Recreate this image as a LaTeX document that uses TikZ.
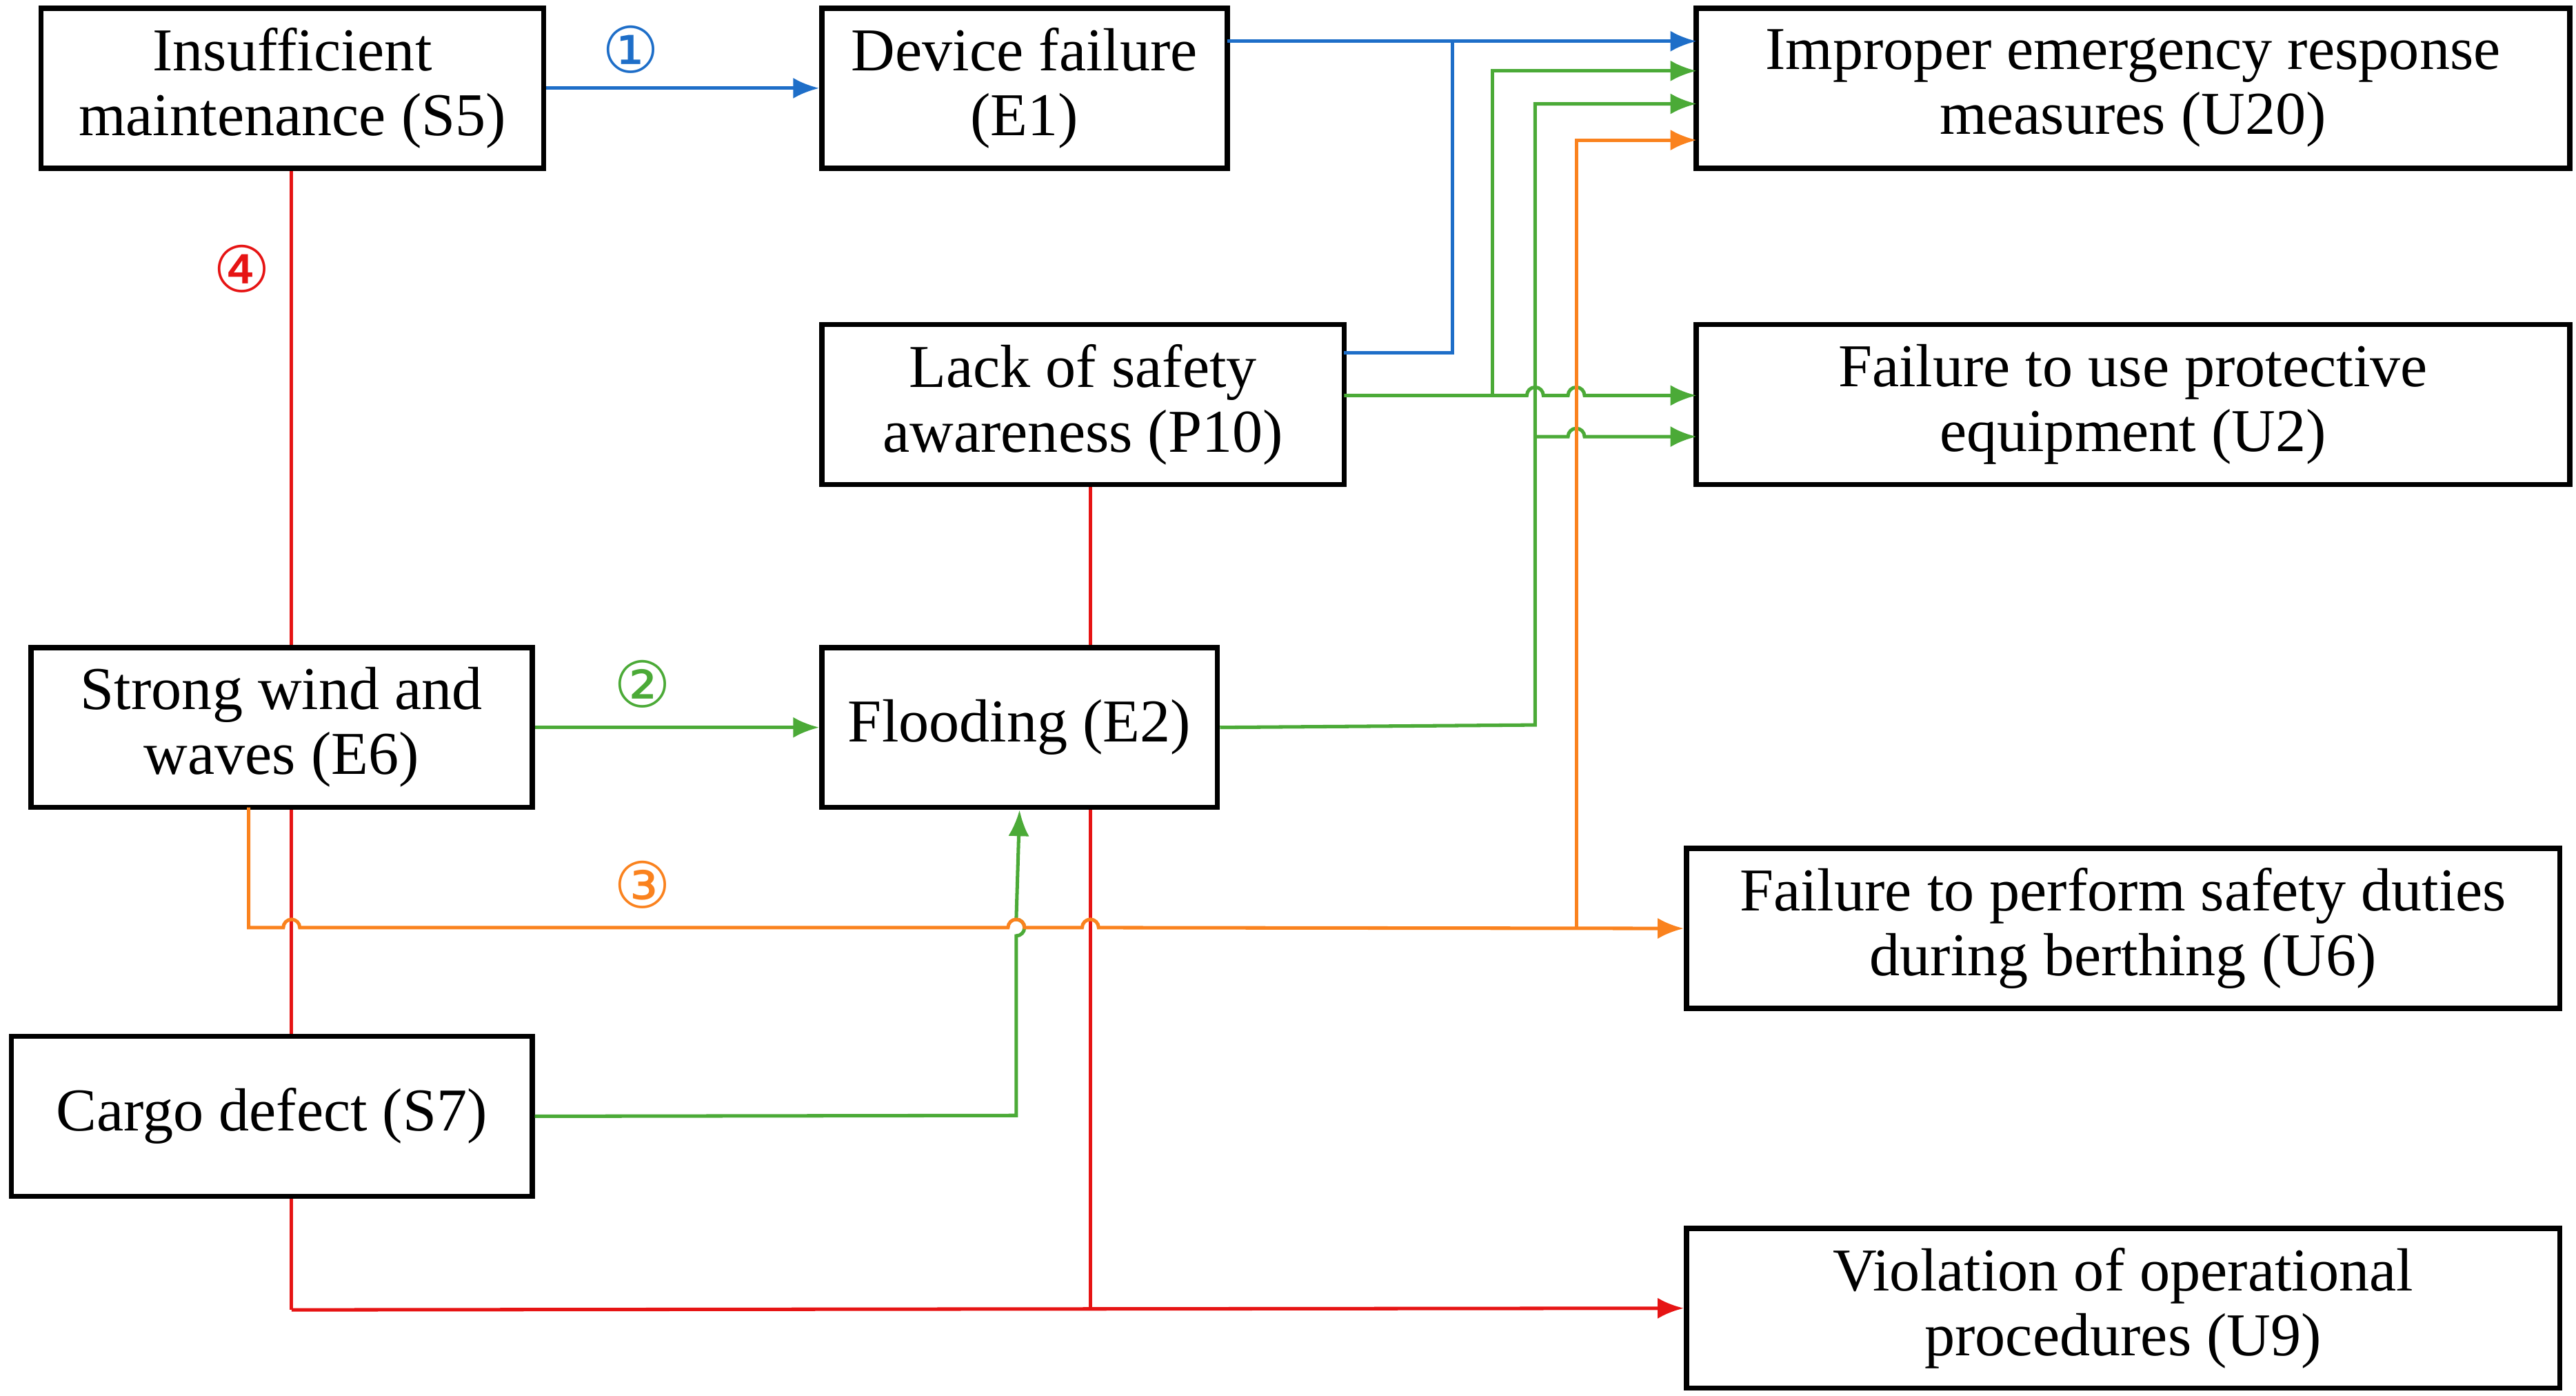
\documentclass[tikz,border=0pt]{standalone}
\usepackage{fontspec}
\setmainfont{Liberation Serif}
\newfontfamily\symf{DejaVu Sans}
\usetikzlibrary{arrows.meta}
\definecolor{cb}{RGB}{30,110,200}
\definecolor{cg}{RGB}{75,170,55}
\definecolor{co}{RGB}{250,130,30}
\definecolor{cr}{RGB}{230,20,20}
\begin{document}
\begin{tikzpicture}[x=0.01cm,y=-0.01cm,
 box/.style={draw,line width=0.9pt,fill=white,align=center,inner sep=0pt,font=\fontsize{10.5}{11.2}\selectfont},
 ln/.style={line width=0.6pt},
 ar/.style={ln,-{Latex[length=4.5pt,width=3.6pt]}},
 lab/.style={font=\symf\fontsize{11}{11}\selectfont}]
\useasboundingbox (0,0) rectangle (1564,847);
% red lines (behind boxes)
\draw[ln,cr] (177,102) -- (177,795);
\draw[ln,cr] (662,294) -- (662,795);
\node[lab,text=cr] (n4) at (147,163) {④};
% boxes
\node[box,minimum width=3.05cm,minimum height=0.97cm] (S5) at (177.5,53.5) {Insufficient\\maintenance (S5)};
\node[box,minimum width=2.46cm,minimum height=0.97cm] (E1) at (622,53.5) {Device failure\\(E1)};
\node[box,minimum width=5.30cm,minimum height=0.97cm] (U20) at (1295,53.5) {Improper emergency response\\measures (U20)};
\node[box,minimum width=3.17cm,minimum height=0.97cm] (P10) at (657.5,245.5) {Lack of safety\\awareness (P10)};
\node[box,minimum width=5.30cm,minimum height=0.97cm] (U2) at (1295,245.5) {Failure to use protective\\equipment (U2)};
\node[box,minimum width=3.04cm,minimum height=0.97cm] (E6) at (171,441.5) {Strong wind and\\waves (E6)};
\node[box,minimum width=2.40cm,minimum height=0.97cm] (E2) at (619,441.5) {Flooding (E2)};
\node[box,minimum width=5.30cm,minimum height=0.97cm] (U6) at (1289,563.5) {Failure to perform safety duties\\during berthing (U6)};
\node[box,minimum width=3.16cm,minimum height=0.97cm] (S7) at (165,677.5) {Cargo defect (S7)};
\node[box,minimum width=5.30cm,minimum height=0.97cm] (U9) at (1289,794) {Violation of operational\\procedures (U9)};
\draw[ar,cr] (177,795) -- (U9.west);
% blue
\draw[ar,cb] (S5.east) -- (E1.west);
\node[lab,text=cb] (n1) at (383,30) {①};
\draw[ar,cb] (745,25) -- (1030,25);
\draw[ln,cb] (816,214) -- (882,214) -- (882,25);
% green
\draw[ar,cg] (E6.east) -- (E2.west);
\node[lab,text=cg] (n2) at (390,415) {②};
\draw[ar,cg] (S7.east) -- (617,677) -- (617,568) arc[start angle=90,end angle=-90,radius=5] -- (E2.south);
\draw[ar,cg] (816,240) -- (927,240) arc[start angle=180,end angle=360,radius=5] -- (952,240) arc[start angle=180,end angle=360,radius=5] -- (1030,240);
\draw[ar,cg] (906,240) -- (906,43) -- (1030,43);
\draw[ar,cg] (E2.east) -- (932,440) -- (932,63) -- (1030,63);
\draw[ar,cg] (932,265) -- (952,265) arc[start angle=180,end angle=360,radius=5] -- (1030,265);
% orange
\draw[ar,co] (151,490) -- (151,563) -- (172,563) arc[start angle=180,end angle=360,radius=5] -- (612,563) arc[start angle=180,end angle=360,radius=5] -- (657,563) arc[start angle=180,end angle=360,radius=5] -- (U6.west);
\draw[ar,co] (957,563) -- (957,85) -- (1030,85);
\node[lab,text=co] (n3) at (390,537) {③};
\end{tikzpicture}
\end{document}
